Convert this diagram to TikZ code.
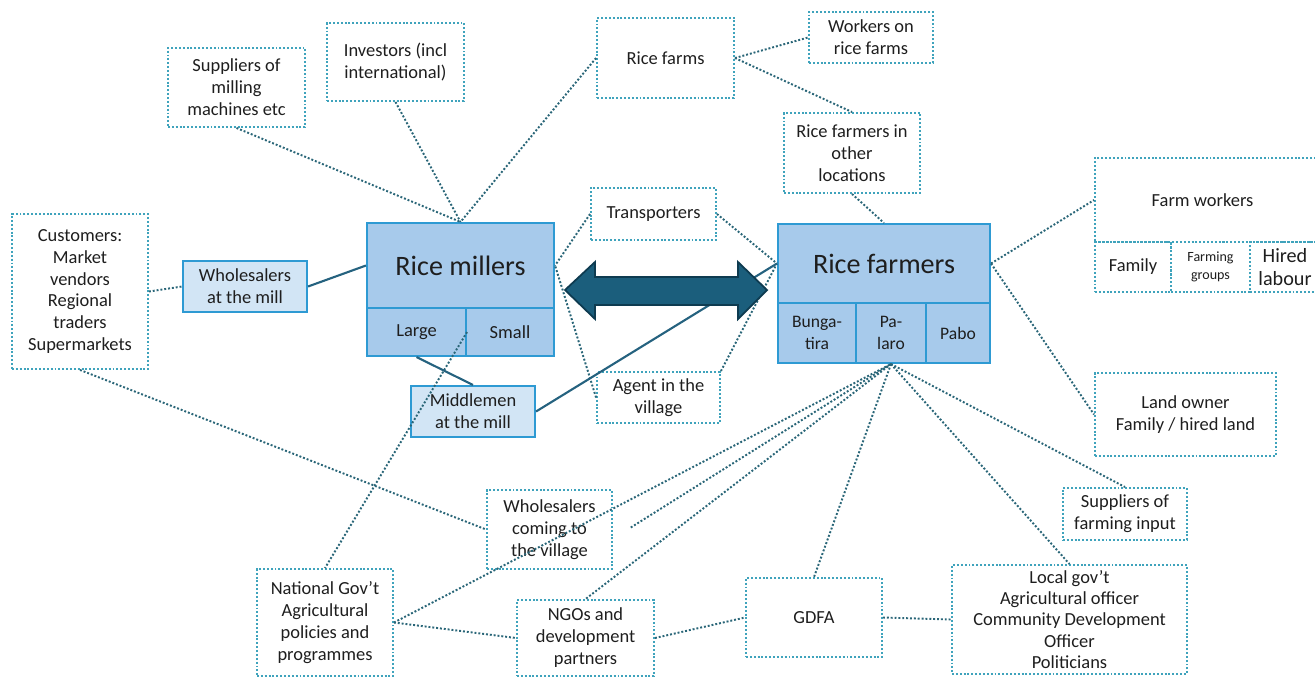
\documentclass[tikz,border=0pt]{standalone}
\usepackage{fontspec}
\setmainfont{Carlito}
\usepackage{tikz}
\usetikzlibrary{positioning,calc}

\definecolor{boxline}{HTML}{3FA3BC}
\definecolor{linkdot}{HTML}{2A6678}
\definecolor{millfill}{HTML}{A7CAEB}
\definecolor{millline}{HTML}{2E9AD3}
\definecolor{midfill}{HTML}{D2E5F5}
\definecolor{linksolid}{HTML}{25627F}
\definecolor{arrowfill}{HTML}{1B5E7C}
\definecolor{arrowline}{HTML}{0E3B50}
\definecolor{txt}{HTML}{1E1E1E}

\begin{document}
\begin{tikzpicture}[x=0.02cm, y=-0.02cm, font=\fontsize{10.5}{12.5}\selectfont, text=txt]
\tikzstyle{dbox}=[draw=boxline, line width=1.1pt, dash pattern=on 1.1pt off 1.1pt, align=center, inner sep=1pt]
\tikzstyle{mbox}=[draw=millline, fill=millfill, line width=1.2pt, align=center, inner sep=1pt]
\tikzstyle{lbox}=[draw=millline, fill=midfill, line width=1.2pt, align=center, inner sep=1pt]
\tikzstyle{dotlink}=[draw=linkdot, line width=1.1pt, dash pattern=on 1.1pt off 1.1pt]
\tikzstyle{solidlink}=[draw=linksolid, line width=1.2pt]
\useasboundingbox (0,0) rectangle (1315,677);

% millers side
\node[dbox, minimum width=2.74cm, minimum height=1.58cm] (supmill) at (236.5,87.5) {Suppliers of\\milling\\machines etc};
\node[dbox, minimum width=2.74cm, minimum height=1.56cm] (invest) at (395.5,62) {Investors (incl\\international)};
\node[dbox, minimum width=2.72cm, minimum height=3.1cm] (customers) at (80,291.5) {Customers:\\Market\\vendors\\Regional\\traders\\Supermarkets};
\node[lbox, minimum width=2.48cm, minimum height=1.02cm] (wsmill) at (245,286.5) {Wholesalers\\at the mill};
\node[mbox, minimum width=3.74cm, minimum height=1.7cm, font=\fontsize{16}{19}\selectfont] (millers) at (460.5,265.5) {Rice millers};
\node[mbox, minimum width=1.98cm, minimum height=0.96cm] (large) at (416.5,332) {Large};
\node[mbox, minimum width=1.76cm, minimum height=0.96cm] (small) at (510,332) {Small};
\node[lbox, minimum width=2.48cm, minimum height=1.02cm] (middle) at (473,411.5) {Middlemen\\at the mill};

% between
\node[dbox, minimum width=2.5cm, minimum height=1.04cm] (transp) at (653.5,214) {Transporters};
\node[dbox, minimum width=2.46cm, minimum height=1.02cm] (agent) at (658.5,397.5) {Agent in the\\village};
\node[dbox, minimum width=2.5cm, minimum height=1.58cm] (wscome) at (549.5,529.5) {Wholesalers\\coming to\\the village};

% farmers side
\node[dbox, minimum width=2.74cm, minimum height=1.6cm] (ricefarms) at (665.5,58) {Rice farms};
\node[dbox, minimum width=2.48cm, minimum height=1.02cm] (workers) at (871,37.5) {Workers on\\rice farms};
\node[dbox, minimum width=2.72cm, minimum height=1.6cm] (otherloc) at (852,153) {Rice farmers in\\other\\locations};
\node[mbox, minimum width=4.24cm, minimum height=1.58cm, font=\fontsize{16}{19}\selectfont] (farmers) at (884,263.5) {Rice farmers};
\node[mbox, minimum width=1.56cm, minimum height=1.2cm, font=\fontsize{10}{12.5}\selectfont] (bunga) at (817,333) {Bunga-\\tira};
\node[mbox, minimum width=1.4cm, minimum height=1.2cm, font=\fontsize{10}{12.5}\selectfont] (palaro) at (891,333) {Pa-\\laro};
\node[mbox, minimum width=1.28cm, minimum height=1.2cm, font=\fontsize{10}{12.5}\selectfont] (pabo) at (958,333) {Pabo};
\node[dbox, minimum width=4.5cm, minimum height=1.68cm] (farmwork) at (1207.5,200) {\hspace*{-0.1cm}Farm workers\hspace*{0.1cm}};
\node[dbox, minimum width=1.52cm, minimum height=1cm] (family) at (1133,267) {Family};
\node[dbox, minimum width=1.58cm, minimum height=1cm, font=\fontsize{8}{10}\selectfont] (groups) at (1210.5,267) {Farming\\groups};
\node[dbox, minimum width=1.4cm, minimum height=1cm, font=\fontsize{11.5}{13.5}\selectfont] (hired) at (1285,267) {Hired\\labour};
\node[dbox, minimum width=3.62cm, minimum height=1.66cm] (landown) at (1185.5,414.5) {Land owner\\Family / hired land};
\node[dbox, minimum width=2.48cm, minimum height=1.04cm] (supfarm) at (1125,514) {Suppliers of\\farming input};

% bottom row
\node[dbox, minimum width=2.72cm, minimum height=2.14cm] (natgov) at (325,622.5) {National Gov’t\\Agricultural\\policies and\\programmes};
\node[dbox, minimum width=2.74cm, minimum height=1.52cm] (ngo) at (585.5,638) {NGOs and\\development\\partners};
\node[dbox, minimum width=2.72cm, minimum height=1.58cm] (gdfa) at (814,617.5) {GDFA};
\node[dbox, minimum width=4.7cm, minimum height=2.18cm, font=\fontsize{10.5}{12}\selectfont] (localgov) at (1069.5,619.5) {Local gov’t\\Agricultural officer\\Community Development\\Officer\\Politicians};

\coordinate (looseend) at (630,528);

\path[dotlink]
(supmill.south) edge (millers.north)
(invest.south) edge (millers.north)
(ricefarms.west) edge (millers.north)
(ricefarms.east) edge (workers.west)
(ricefarms.east) edge (otherloc.north)
(otherloc.south) edge (farmers.north)
(customers.east) edge (wsmill.west)
(customers.south) edge (wscome.west)
(transp.west) edge (millers.east)
(transp.east) edge (farmers.west)
(agent.west) edge (millers.east)
(agent.north east) edge (farmers.west)
(large.east) edge (natgov.north)
(natgov.east) edge (ngo.west)
(natgov.east) edge (palaro.south)
(palaro.south) edge (looseend)
(palaro.south) edge (ngo.north)
(palaro.south) edge (gdfa.north)
(palaro.south) edge (localgov.north)
(palaro.south) edge (supfarm.north)
(farmers.east) edge (farmwork.west)
(farmers.east) edge (landown.west)
(ngo.east) edge (gdfa.west)
(gdfa.east) edge (localgov.west);

\path[solidlink]
(wsmill.east) edge (millers.west)
(large.south) edge (middle.north)
(middle.east) edge (farmers.west);

% two-way arrow between millers and farmers
\draw[fill=arrowfill, draw=arrowline, line width=1pt, line join=miter]
(565,290) -- (595,262) -- (595,277) -- (738,277) -- (738,262) -- (767,290)
-- (738,319) -- (738,305) -- (595,305) -- (595,319) -- cycle;

\end{tikzpicture}
\end{document}
